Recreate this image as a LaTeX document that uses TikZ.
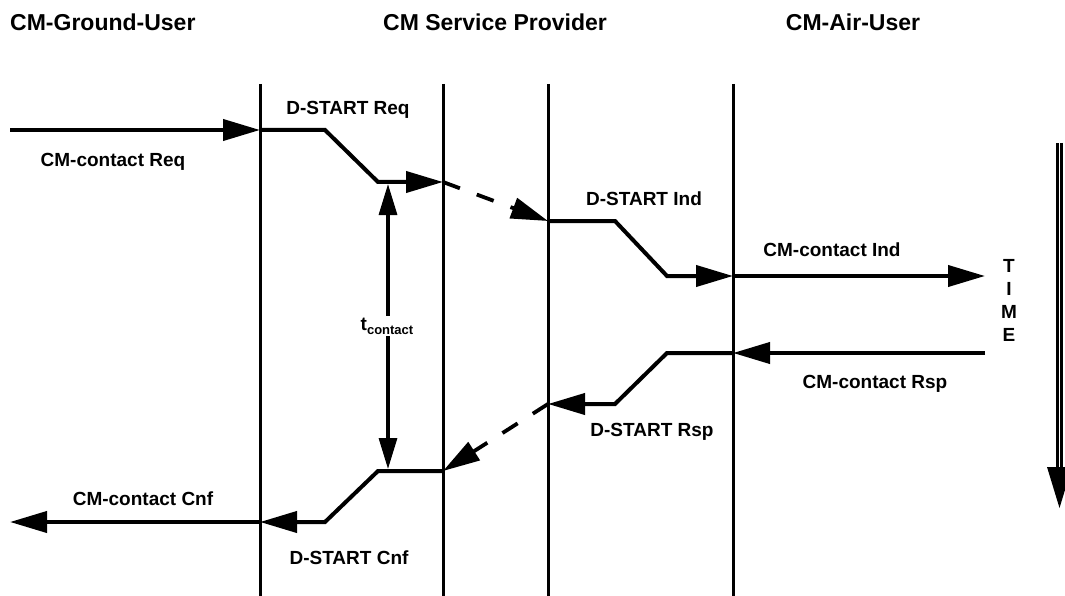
\documentclass[tikz,border=0pt]{standalone}
\usepackage{fontspec}
\setmainfont{Liberation Sans}
\usetikzlibrary{arrows.meta}

\begin{document}
\begin{tikzpicture}[x=1pt, y=-1pt, >={Triangle[length=37pt,width=21pt]},
  prim/.style={line width=4pt, ->},
  relay/.style={line width=3.8pt, ->, dash pattern=on 18pt off 18pt},
  lifeline/.style={line width=3pt},
  lbl/.style={font=\fontsize{19}{21}\selectfont\bfseries, inner sep=0pt},
  head/.style={font=\fontsize{23}{26}\selectfont\bfseries, inner sep=0pt}]
  \useasboundingbox (0,0) rectangle (1065,596);

  % entities
  \node[head, anchor=west] (ground) at (10,22) {CM-Ground-User};
  \node[head] (provider) at (495,22) {CM Service Provider};
  \node[head] (air) at (853,22) {CM-Air-User};

  % lifelines
  \coordinate (gu) at (260,84);   \coordinate (gub) at (260,596);
  \coordinate (spl) at (443,84);  \coordinate (splb) at (443,596);
  \coordinate (spr) at (548,84);  \coordinate (sprb) at (548,596);
  \coordinate (au) at (733,84);   \coordinate (aub) at (733,596);
  \foreach \t/\b in {gu/gub, spl/splb, spr/sprb, au/aub}
    \draw[lifeline] (\t) -- (\b);

  % request / indication
  \coordinate (reqin) at (10,130);
  \coordinate (req0) at (260,130);
  \coordinate (req1) at (325,130);
  \coordinate (req2) at (378,182);
  \coordinate (req3) at (443,182);
  \coordinate (ind0) at (548,221);
  \coordinate (ind1) at (615,221);
  \coordinate (ind2) at (667,276);
  \coordinate (ind3) at (733,276);
  \coordinate (indout) at (985,276);

  \draw[prim] (reqin) -- (req0);
  \draw[prim] (req0) -- (req1) -- (req2) -- (req3);
  \draw[relay] (req3) -- (ind0);
  \draw[prim] (ind0) -- (ind1) -- (ind2) -- (ind3);
  \draw[prim] (ind3) -- (indout);

  % response / confirmation
  \coordinate (rspin) at (985,353);
  \coordinate (rsp0) at (733,353);
  \coordinate (rsp1) at (667,353);
  \coordinate (rsp2) at (615,404);
  \coordinate (rsp3) at (548,404);
  \coordinate (cnf0) at (443,471);
  \coordinate (cnf1) at (378,471);
  \coordinate (cnf2) at (325,522);
  \coordinate (cnf3) at (260,522);
  \coordinate (cnfout) at (10,522);

  \draw[prim] (rspin) -- (rsp0);
  \draw[prim] (rsp0) -- (rsp1) -- (rsp2) -- (rsp3);
  \draw[relay] (rsp3) -- (cnf0);
  \draw[prim] (cnf0) -- (cnf1) -- (cnf2) -- (cnf3);
  \draw[prim] (cnf3) -- (cnfout);

  % labels
  \node[lbl] (lreq) at (113,162) {CM-contact Req};
  \node[lbl] (ldreq) at (348,110) {D-START Req};
  \node[lbl] (ldind) at (644,199) {D-START Ind};
  \node[lbl] (lind) at (832,250) {CM-contact Ind};
  \node[lbl] (lrsp) at (875,384) {CM-contact Rsp};
  \node[lbl] (ldrsp) at (652,432) {D-START Rsp};
  \node[lbl] (lcnf) at (143,499) {CM-contact Cnf};
  \node[lbl] (ldcnf) at (349,558) {D-START Cnf};

  % contact time
  \coordinate (tc0) at (388,184);
  \coordinate (tc1) at (388,469);
  \draw[line width=3.2pt, {Triangle[length=31pt,width=18pt]}-{Triangle[length=31pt,width=18pt]}] (tc0) -- (tc1);
  \node[fill=white, inner sep=2pt, font=\fontsize{19}{21}\selectfont\bfseries] (tcontact) at (387,326)
    {t\raisebox{-4pt}{\fontsize{13}{14}\selectfont contact}};

  % time axis
  \node[align=center, inner sep=0pt, font=\fontsize{19}{23}\selectfont\bfseries] (time) at (1009,300) {T\\I\\M\\E};
  \coordinate (ttop) at (1059.5,143);
  \coordinate (tbase) at (1059.5,469);
  \coordinate (ttip) at (1059.5,508);
  \draw[line width=3.4pt, double, double distance=1pt] (ttop) -- (tbase);
  \fill (1047,467) -- (1072,467) -- (ttip) -- cycle;
\end{tikzpicture}
\end{document}
